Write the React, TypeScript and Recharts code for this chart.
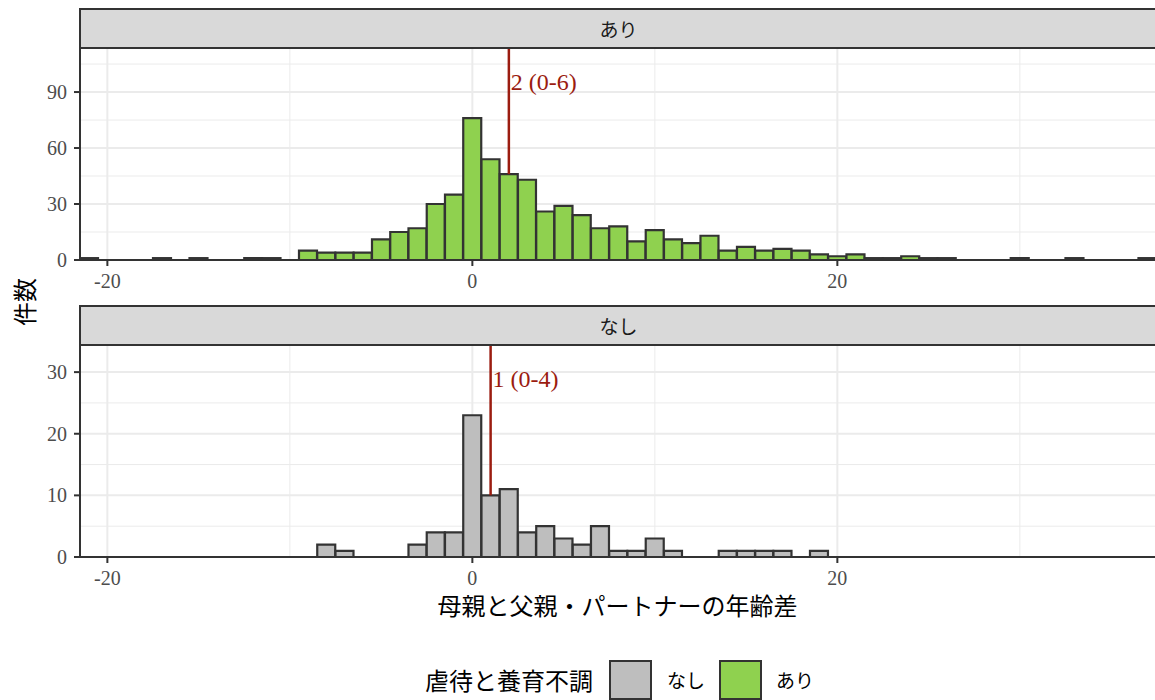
import React from 'react';
import { BarChart, Bar, XAxis, YAxis, CartesianGrid, ReferenceLine } from 'recharts';

// 年齢差（1歳刻みのビンの中心）
const bins = [
  -21, -20, -19, -18, -17, -16, -15, -14, -13, -12, -11, -10, -9, -8, -7, -6, -5, -4, -3, -2, -1,
  0, 1, 2, 3, 4, 5, 6, 7, 8, 9, 10, 11, 12, 13, 14, 15, 16, 17, 18, 19, 20,
  21, 22, 23, 24, 25, 26, 27, 28, 29, 30, 31, 32, 33, 34, 35, 36, 37,
];

// 虐待と養育不調: あり
const countsAri = [
  1, 0, 0, 0, 1, 0, 1, 0, 0, 1, 1, 0, 5, 4, 4, 4, 11, 15, 17, 30, 35,
  76, 54, 46, 43, 26, 29, 24, 17, 18, 10, 16, 11, 9, 13, 5, 7, 5, 6, 5, 3, 2,
  3, 1, 1, 2, 1, 1, 0, 0, 0, 1, 0, 0, 1, 0, 0, 0, 1,
];

// 虐待と養育不調: なし
const countsNashi = [
  0, 0, 0, 0, 0, 0, 0, 0, 0, 0, 0, 0, 0, 2, 1, 0, 0, 0, 2, 4, 4,
  23, 10, 11, 4, 5, 3, 2, 5, 1, 1, 3, 1, 0, 0, 1, 1, 1, 1, 0, 1, 0,
  0, 0, 0, 0, 0, 0, 0, 0, 0, 0, 0, 0, 0, 0, 0, 0, 0,
];

const groupNames = ['あり', 'なし'];
const medians = [2, 1];
const medianLabels = ['2 (0-6)', '1 (0-4)'];

const xTicks = [-20, 0, 20];
const xMinor = [-10, 10, 30];
const yTicksAri = [0, 30, 60, 90];
const yMinorAri = [15, 45, 75, 105];
const yTicksNashi = [0, 10, 20, 30];
const yMinorNashi = [5, 15, 25];

const SERIF = "'Liberation Serif', 'Noto Sans CJK JP', serif";
const JP = "'Noto Sans CJK JP', sans-serif";
const DARK = '#333333';
const GRID = '#EBEBEB';
const RED = '#9B1C10';
const GREEN = '#8FD14F';
const GREY = '#BEBEBE';

type FacetProps = {
  top: number;
  name: string;
  counts: number[];
  fill: string;
  yMax: number;
  yTicks: number[];
  yMinor: number[];
  median: number;
  medianLabel: string;
};

const Facet = ({ top, name, counts, fill, yMax, yTicks, yMinor, median, medianLabel }: FacetProps) => {
  const data = bins.map((b, i) => ({ bin: b, count: counts[i] }));
  const medianCount = counts[bins.indexOf(median)];

  return (
    <>
      <div style={{ position: 'absolute', left: 0, top: top + 40 }}>
        <BarChart
          width={1160}
          height={252}
          data={data}
          margin={{ top: 0, right: 0, bottom: 0, left: 0 }}
          barCategoryGap={0}
          barGap={0}
        >
          <CartesianGrid
            stroke={GRID}
            strokeWidth={1}
            horizontalValues={yMinor}
            verticalValues={xMinor}
          />
          <CartesianGrid
            stroke={GRID}
            strokeWidth={2}
            horizontalValues={yTicks}
            verticalValues={xTicks}
          />
          <XAxis
            dataKey="bin"
            type="number"
            domain={[-21.5, 37.68]}
            allowDataOverflow
            ticks={xTicks}
            height={40}
            tickSize={6}
            tickMargin={8}
            tick={{ fill: '#4D4D4D', fontSize: 20, fontFamily: SERIF }}
            tickLine={{ stroke: DARK, strokeWidth: 2 }}
            axisLine={{ stroke: DARK, strokeWidth: 2 }}
          />
          <YAxis
            type="number"
            domain={[0, yMax]}
            allowDataOverflow
            ticks={yTicks}
            width={80}
            tickSize={6}
            tickMargin={7}
            tick={{ fill: '#4D4D4D', fontSize: 20, fontFamily: SERIF }}
            tickLine={{ stroke: DARK, strokeWidth: 2 }}
            axisLine={{ stroke: DARK, strokeWidth: 2 }}
          />
          <ReferenceLine
            segment={[{ x: median, y: medianCount }, { x: median, y: yMax }]}
            stroke={RED}
            strokeWidth={2.5}
            label={(p: any) => (
              <text
                x={p.viewBox.x + 2}
                y={p.viewBox.y + 42}
                fill={RED}
                fontSize={24}
                fontFamily={SERIF}
              >
                {medianLabel}
              </text>
            )}
          />
          <Bar
            dataKey="count"
            fill={fill}
            stroke={DARK}
            strokeWidth={2.2}
            isAnimationActive={false}
          />
        </BarChart>
      </div>
      <div
        style={{
          position: 'absolute',
          left: 79,
          top: top,
          width: 1090,
          height: 41,
          boxSizing: 'border-box',
          background: '#D9D9D9',
          border: `2px solid ${DARK}`,
          lineHeight: '37px',
          fontSize: 19,
          fontFamily: JP,
          color: '#1A1A1A',
        }}
      >
        <div style={{ width: 1075, textAlign: 'center' }}>{name}</div>
      </div>
    </>
  );
};

const App = () => {
  return (
    <div
      style={{
        position: 'absolute',
        left: 0,
        top: 0,
        width: 1155,
        height: 700,
        overflow: 'hidden',
        background: '#fff',
      }}
    >
      <Facet
        top={8}
        name={groupNames[0]}
        counts={countsAri}
        fill={GREEN}
        yMax={113.6}
        yTicks={yTicksAri}
        yMinor={yMinorAri}
        median={medians[0]}
        medianLabel={medianLabels[0]}
      />
      <Facet
        top={305}
        name={groupNames[1]}
        counts={countsNashi}
        fill={GREY}
        yMax={34.4}
        yTicks={yTicksNashi}
        yMinor={yMinorNashi}
        median={medians[1]}
        medianLabel={medianLabels[1]}
      />

      {/* y軸タイトル */}
      <div
        style={{
          position: 'absolute',
          left: 23,
          top: 302,
          transform: 'translate(-50%, -50%) rotate(-90deg)',
          fontSize: 24,
          fontFamily: JP,
          color: '#000',
          whiteSpace: 'nowrap',
        }}
      >
        件数
      </div>

      {/* x軸タイトル */}
      <div
        style={{
          position: 'absolute',
          left: 80,
          width: 1075,
          top: 589,
          textAlign: 'center',
          fontSize: 24,
          fontFamily: JP,
          color: '#000',
          lineHeight: '32px',
        }}
      >
        母親と父親・パートナーの年齢差
      </div>

      {/* 凡例 */}
      <div style={{ position: 'absolute', left: 0, top: 660, width: 1155, height: 40, fontFamily: JP, color: '#000' }}>
        <span style={{ position: 'absolute', left: 425, top: 0, lineHeight: '40px', fontSize: 24 }}>虐待と養育不調</span>
        <span style={{ position: 'absolute', left: 609, top: 0, width: 43, height: 40, boxSizing: 'border-box', background: GREY, border: `2px solid ${DARK}` }} />
        <span style={{ position: 'absolute', left: 667, top: 0, lineHeight: '40px', fontSize: 19 }}>{groupNames[1]}</span>
        <span style={{ position: 'absolute', left: 719, top: 0, width: 43, height: 40, boxSizing: 'border-box', background: GREEN, border: `2px solid ${DARK}` }} />
        <span style={{ position: 'absolute', left: 776, top: 0, lineHeight: '40px', fontSize: 19 }}>{groupNames[0]}</span>
      </div>
    </div>
  );
};

export default App;
